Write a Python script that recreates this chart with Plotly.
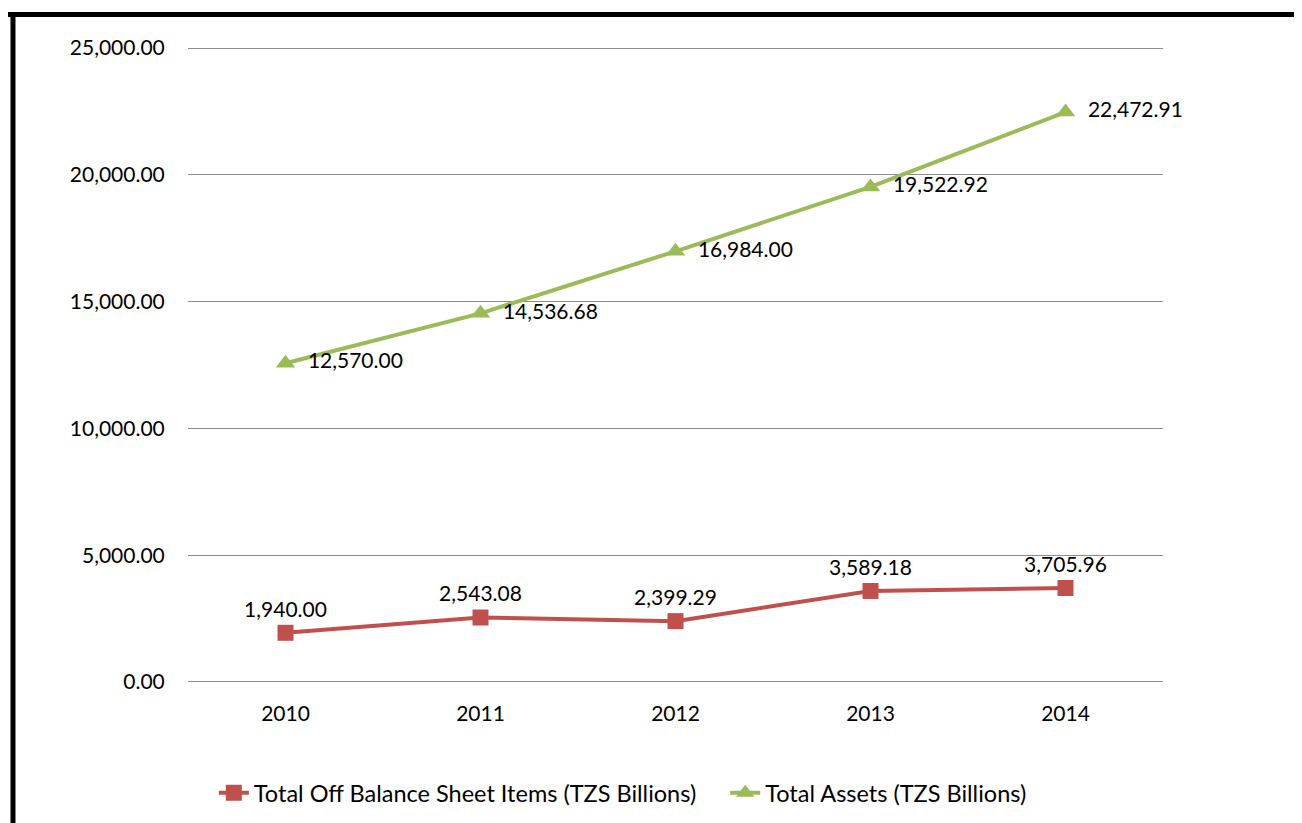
import plotly.graph_objects as go

years = ["2010", "2011", "2012", "2013", "2014"]
off_balance = [1940.00, 2543.08, 2399.29, 3589.18, 3705.96]
total_assets = [12570.00, 14536.68, 16984.00, 19522.92, 22472.91]
y_ticks = [0, 5000, 10000, 15000, 20000, 25000]
y_tick_labels = ["0.00", "5,000.00", "10,000.00", "15,000.00", "20,000.00", "25,000.00"]
series_names = ["Total Off Balance Sheet Items (TZS Billions)", "Total Assets (TZS Billions)"]

FONT = "Lato"
FS = 21
RED = "#C0504D"
GREEN = "#9BBB59"

fig = go.Figure()
fig.add_trace(go.Scatter(
    x=years, y=off_balance, name=series_names[0] + "\u00a0" * 4,
    mode="lines+markers+text",
    line=dict(color=RED, width=4),
    marker=dict(symbol="square", size=16, color=RED),
    text=[f"{v:,.2f}" for v in off_balance],
    textposition="top center",
    textfont=dict(family=FONT, size=FS, color="#000000"),
    cliponaxis=False,
))
fig.add_trace(go.Scatter(
    x=years, y=total_assets, name=series_names[1],
    mode="lines+markers+text",
    line=dict(color=GREEN, width=4),
    marker=dict(symbol="triangle-up", size=17, color=GREEN),
    text=["  " + f"{v:,.2f}" for v in total_assets],
    textposition="middle right",
    textfont=dict(family=FONT, size=FS, color="#000000"),
    cliponaxis=False,
))

# outer border (top and left visible)
fig.add_shape(type="line", xref="paper", yref="paper",
              x0=-0.185, x1=1.2, y0=1.0511, y1=1.0511,
              line=dict(color="black", width=5))
fig.add_shape(type="line", xref="paper", yref="paper",
              x0=-0.1795, x1=-0.1795, y0=1.0545, y1=-0.3,
              line=dict(color="black", width=5))

fig.update_layout(
    width=1302, height=823,
    margin=dict(l=180, r=147, t=39, b=148),
    paper_bgcolor="white", plot_bgcolor="white",
    font=dict(family=FONT, size=FS, color="#000000"),
    showlegend=True,
    legend=dict(orientation="h", x=0.446, xanchor="center", y=-0.173, yanchor="middle",
                font=dict(family=FONT, size=23.5), tracegroupgap=0),
    xaxis=dict(type="category", range=[-0.5, 4.5], showgrid=False, showline=False,
               ticks="outside", ticklen=12, tickcolor="rgba(0,0,0,0)",
               tickfont=dict(family=FONT, size=FS), zeroline=False),
    yaxis=dict(range=[-40, 25040], tickvals=y_ticks, ticktext=y_tick_labels,
               showgrid=True, gridcolor="#8C8C8C", gridwidth=1, zeroline=False,
               showline=False, ticks="outside", ticklen=18, tickcolor="rgba(0,0,0,0)",
               tickfont=dict(family=FONT, size=FS)),
)
fig.write_html("out.html")
